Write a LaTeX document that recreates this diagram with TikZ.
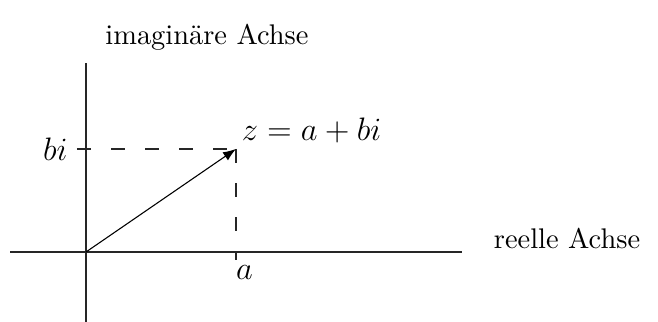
\documentclass[tikz,border=0pt]{standalone}
\usepackage{tikz}
\usetikzlibrary{arrows.meta,positioning}

\begin{document}
\begin{tikzpicture}[axis/.style={draw=black!85}, hilf/.style={draw=black!85, dash pattern=on 5.2pt off 7.4pt}, arr/.style={-Latex}, mlab/.style={font=\large}, tlab/.style={font=\fontsize{10.5}{12.5}\selectfont}]
\useasboundingbox (-1.117,-0.909) rectangle (7.429,3.273);
\coordinate (o) at (0,0);
\coordinate (xl) at (-0.987,0);
\coordinate (xr) at (4.883,0);
\coordinate (yb) at (0,-0.909);
\coordinate (yt) at (0,2.455);
\coordinate (z) at (1.948,1.338);
\coordinate (bt) at (-0.117,1.338);
\coordinate (at) at (1.948,-0.104);
\draw[axis] (xl) -- (xr);
\draw[axis] (yb) -- (yt);
\draw[hilf] (bt) -- (z);
\draw[hilf] (z) -- (at);
\draw[arr] (o) -- (z);
\node[mlab, left] (bi) at (bt) {$bi$};
\node[mlab, above right, inner sep=2pt] (zlab) at (z) {$z = a + bi$};
\node[mlab] (alab) at (2.058,-0.273) {$a$};
\node[tlab] (re) at (6.247,0.169) {reelle Achse};
\node[tlab] (im) at (1.571,2.792) {imaginäre Achse};
\end{tikzpicture}
\end{document}
